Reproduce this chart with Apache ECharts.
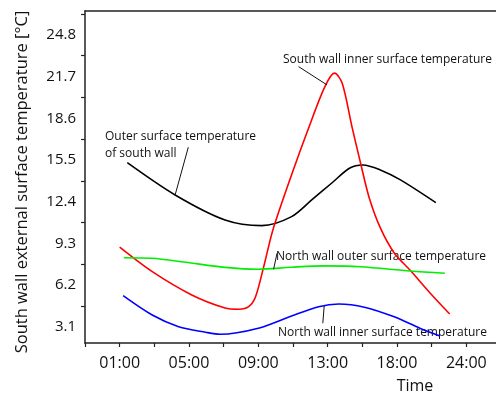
<!DOCTYPE html>
<html lang="en">
<head>
	<meta charset="UTF-8">
	<title>Wall surface temperature</title>
	<script src="https://cdn.jsdelivr.net/npm/echarts@6/dist/echarts.min.js"></script>
	<style>
		html, body { margin: 0; padding: 0; background: #fff; }
	</style>
</head>
<body>
	<div id="main" style="width: 496px;height: 396px;"></div>
	<script>
		// x is measured in tick-label steps: 0 = 01:00, 1 = 05:00, ... 5 = 24:00
		var timeLabels = ['01:00', '05:00', '09:00', '13:00', '18:00', '24:00'];
		var tempLabels = [3.1, 6.2, 9.3, 12.4, 15.5, 18.6, 21.7, 24.8];

		var southOuter = [[0.11, 15.30], [0.80, 12.90], [1.52, 11.04], [2.05, 10.62], [2.48, 11.29],
			[2.77, 12.53], [3.06, 13.79], [3.32, 14.90], [3.51, 15.13], [3.76, 14.76], [4.05, 14.02],
			[4.56, 12.33]];
		var southInner = [[0.00, 9.02], [0.47, 7.20], [1.04, 5.47], [1.52, 4.50], [1.72, 4.41], [1.86, 4.60],
			[1.96, 5.34], [2.09, 7.83], [2.21, 10.30], [2.48, 14.40], [2.72, 17.80], [2.96, 20.95],
			[3.10, 21.95], [3.21, 21.20], [3.35, 17.98], [3.48, 15.15], [3.60, 12.68], [3.76, 10.45],
			[3.96, 8.59], [4.20, 7.25], [4.48, 5.60], [4.76, 4.06]];
		var northOuter = [[0.06, 8.24], [0.47, 8.20], [0.95, 7.90], [1.52, 7.52], [2.00, 7.38], [2.48, 7.53],
			[2.96, 7.63], [3.47, 7.57], [4.19, 7.25], [4.69, 7.08]];
		var northInner = [[0.05, 5.42], [0.47, 3.98], [0.85, 3.11], [1.24, 2.70], [1.45, 2.55], [2.00, 3.00],
			[2.48, 3.91], [2.87, 4.60], [3.16, 4.80], [3.53, 4.56], [3.95, 3.86], [4.33, 3.00], [4.62, 2.42]];

		// leader lines from the labels to the curves
		var southOuterLeader = [[0.99, 16.45], [0.80, 12.90]];
		var southInnerLeader = [[2.58, 22.44], [2.99, 21.08]];
		var northOuterLeader = [[2.27, 8.57], [2.22, 7.38]];
		var northInnerLeader = [[2.95, 4.65], [2.93, 3.37]];

		var xTicks = [];
		for (var i = -1; i <= 10; i++) xTicks.push(i / 2);
		var xLabelPos = timeLabels.map(function (t, i) { return i; });
		var yTicks = tempLabels.map(function (v) { return v + 1.55; });

		var font = '"Open Sans", sans-serif';
		var axisColor = '#222';

		function leader(pts) {
			return {
				silent: true,
				symbol: ['none', 'none'],
				label: { show: false },
				lineStyle: { color: '#111', width: 1, type: 'solid' },
				emphasis: { disabled: true },
				data: [[{ coord: pts[0] }, { coord: pts[1] }]]
			};
		}

		function curve(name, data, color, lead) {
			return {
				name: name,
				type: 'line',
				data: data,
				smooth: 0.3,
				symbol: 'none',
				lineStyle: { color: color, width: 1.6 },
				markLine: leader(lead)
			};
		}

		var myChart = echarts.init(document.getElementById('main'));
		myChart.setOption({
			animation: false,
			grid: { left: 85, top: 11, right: 0, bottom: 53, outerBoundsMode: 'none' },
			xAxis: [
				{
					type: 'value',
					min: -0.5,
					max: 5.428,
					axisLine: { onZero: false, lineStyle: { color: axisColor, width: 1.5 } },
					axisTick: { show: true, customValues: xTicks, length: 4, inside: false,
						lineStyle: { color: axisColor, width: 1.2 } },
					axisLabel: { customValues: xLabelPos, margin: 12, color: '#111',
						fontFamily: font, fontSize: 16,
						formatter: function (v) { return timeLabels[Math.round(v)]; } },
					splitLine: { show: false }
				},
				{
					type: 'value',
					position: 'top',
					min: -0.5,
					max: 5.428,
					axisLine: { show: true, onZero: false, lineStyle: { color: axisColor, width: 1.5 } },
					axisTick: { show: false },
					axisLabel: { show: false },
					splitLine: { show: false }
				}
			],
			yAxis: {
				type: 'value',
				min: 1.9,
				max: 26.57,
				axisLine: { show: true, onZero: false, lineStyle: { color: axisColor, width: 1.5 } },
				axisTick: { show: true, customValues: yTicks, length: 4, inside: false,
					lineStyle: { color: axisColor, width: 1.2 } },
				axisLabel: { customValues: tempLabels, margin: 9, color: '#111',
					fontFamily: font, fontSize: 15,
					formatter: function (v) { return v.toFixed(1); } },
				splitLine: { show: false }
			},
			graphic: [
				{ type: 'text', x: 22, y: 182, rotation: Math.PI / 2, style: {
					text: 'South wall external surface temperature [°C]',
					font: '16.5px ' + font, fill: '#111', align: 'center', verticalAlign: 'middle' } },
				{ type: 'text', x: 283, y: 60, style: { text: 'South wall inner surface temperature',
					font: '12px ' + font, fill: '#111', verticalAlign: 'middle' } },
				{ type: 'text', x: 105, y: 137, style: { text: 'Outer surface temperature',
					font: '12px ' + font, fill: '#111', verticalAlign: 'middle' } },
				{ type: 'text', x: 105, y: 154, style: { text: 'of south wall',
					font: '12px ' + font, fill: '#111', verticalAlign: 'middle' } },
				{ type: 'text', x: 276, y: 257, style: { text: 'North wall outer surface temperature',
					font: '12px ' + font, fill: '#111', verticalAlign: 'middle' } },
				{ type: 'text', x: 278, y: 333, style: { text: 'North wall inner surface temperature',
					font: '12px ' + font, fill: '#111', verticalAlign: 'middle' } },
				{ type: 'text', x: 415, y: 386, style: { text: 'Time',
					font: '16px ' + font, fill: '#111', align: 'center', verticalAlign: 'middle' } }
			],
			series: [
				curve('Outer surface temperature of south wall', southOuter, '#000000', southOuterLeader),
				curve('South wall inner surface temperature', southInner, '#ff0000', southInnerLeader),
				curve('North wall outer surface temperature', northOuter, '#00ee00', northOuterLeader),
				curve('North wall inner surface temperature', northInner, '#0000ff', northInnerLeader)
			]
		});
	</script>
</body>
</html>
